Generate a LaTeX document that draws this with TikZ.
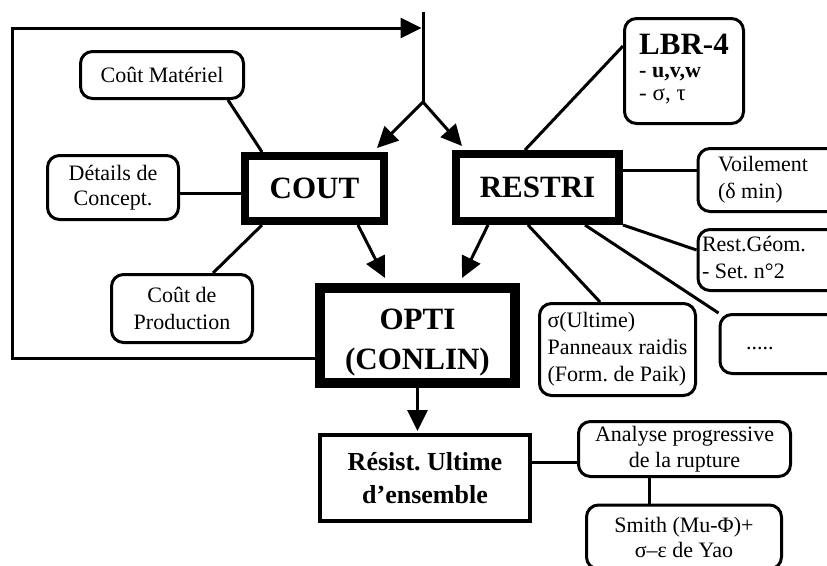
\documentclass[tikz,border=0pt]{standalone}
\usepackage{fontspec}
\setmainfont{Liberation Serif}
\usetikzlibrary{arrows.meta,calc}
\begin{document}
\begin{tikzpicture}[x=1pt,y=-1pt,
  conn/.style={line width=3pt},
  arr/.style={line width=3pt,-{Triangle[length=21pt,width=20pt]}},
  rbox/.style={draw,line width=3pt,rounded corners=12pt,inner sep=0pt,
    font=\fontsize{22}{26}\selectfont,align=center},
  bigbox/.style={draw,line width=8pt,inner sep=0pt,
    font=\bfseries\fontsize{31}{40}\selectfont,align=center},
  ]
\fill[white] (0,0) rectangle (827,565);
\clip (0,0) rectangle (827,565);

% main boxes
\node[bigbox,minimum width=139pt,minimum height=65pt] (CO) at (314.5,188.5) {COUT};
\node[bigbox,minimum width=163pt,minimum height=67pt] (RE) at (537.5,187.5) {RESTRI};
\node[bigbox,line width=10pt,minimum width=195pt,minimum height=95pt] (OP) at (417.5,335.5) {\rule{0pt}{34pt}OPTI\\(CONLIN)};
\node[bigbox,line width=4pt,minimum width=210pt,minimum height=86pt,
  font=\bfseries\fontsize{26}{33}\selectfont] (RU) at (425,478) {Résist.\ Ultime\\d’ensemble};

% rounded boxes
\node[rbox,minimum width=163pt,minimum height=47pt] (CM) at (162,75) {Coût Matériel};
\node[rbox,minimum width=131pt,minimum height=64pt,font=\fontsize{22}{25}\selectfont] (DC) at (113,187.5) {Détails de\\Concept.};
\node[rbox,minimum width=141pt,minimum height=68pt,font=\fontsize{22}{27}\selectfont] (CP) at (182,308.5) {Coût de\\Production};
\node[rbox,minimum width=119pt,minimum height=105pt,font=\fontsize{23}{23}\selectfont] (LB) at (684,71)
  {\begin{tabular}{@{}l@{}}{\bfseries\fontsize{31}{31}\selectfont LBR-4}\\{\bfseries\fontsize{22}{23}\selectfont - u,v,w}\\- σ, τ\end{tabular}};
\node[rbox,anchor=west,inner xsep=20pt,minimum height=63pt,
  font=\fontsize{22}{27}\selectfont] (VO) at (696.5,180) {\begin{tabular}{@{}l@{\hspace{12pt}}}Voilement\\(δ min)\end{tabular}};
\node[rbox,anchor=west,inner xsep=4pt,minimum height=61pt,
  font=\fontsize{22}{27}\selectfont] (RG) at (696.5,260) {\begin{tabular}{@{}l@{\hspace{30pt}}}Rest.Géom.\\- Set.\ n°2\end{tabular}};
\node[rbox,anchor=west,inner xsep=26pt,minimum height=59pt] (DT) at (718.5,344) {\begin{tabular}{@{}l@{\hspace{60pt}}}.....\end{tabular}};
\node[rbox,minimum width=156pt,minimum height=92pt,font=\fontsize{22}{27}\selectfont] (SU) at (617.5,349.5)
  {\begin{tabular}{@{}l@{}}σ(Ultime)\\Panneaux raidis\\(Form.\ de Paik)\end{tabular}};
\node[rbox,minimum width=212pt,minimum height=55pt] (AN) at (684.5,449) {Analyse progressive\\de la rupture};
\node[rbox,minimum width=195pt,minimum height=64pt,font=\fontsize{22}{25}\selectfont] (SM) at (684,537) {Smith (Mu-Φ)+\\σ–ε de Yao};

% feedback loop and branch
\coordinate (top) at (423,12);
\coordinate (br) at (423,102);
\coordinate (fbl) at (12,358);
\coordinate (fbt) at (12,28);
\draw[arr,shorten >=1.5pt] (OP.west |- fbl) -- (fbl) -- (fbt) -- (top |- fbt);
\draw[conn] (top) -- (br);
\draw[arr] (br) -- ([xshift=-11pt,yshift=4pt]CO.north east);
\draw[arr] (br) -- ([xshift=10pt,yshift=4pt]RE.north west);

% cost inputs
\draw[conn] ([xshift=66pt]CM.south) -- ([xshift=-52.5pt]CO.north);
\draw[conn] (DC.east |- 0,193) -- (CO.west |- 0,193);
\draw[conn] ([xshift=31pt]CP.north) -- ([xshift=-52.5pt]CO.south);

% constraint inputs
\draw[conn] ([xshift=-12.5pt]RE.north) -- ([yshift=25pt]LB.west);
\draw[conn] (RE.east |- 0,170) -- (VO.west |- 0,170);
\draw[conn] (RE.south east) -- (RG.west |- 0,250);
\draw[conn] ([xshift=47.5pt]RE.south) -- (DT.north west);
\draw[conn] ([xshift=-9.5pt]RE.south) -- ([xshift=-17.5pt]SU.north);

% to OPTI and below
\draw[arr] ([xshift=43.5pt]CO.south) -- ([xshift=-32.5pt,yshift=5pt]OP.north);
\draw[arr] ([xshift=-49.5pt]RE.south) -- ([xshift=44.5pt,yshift=5pt]OP.north);
\draw[arr] (OP.south) -- ([yshift=2pt]OP.south |- RU.north);
\draw[conn] (RU.east |- 0,462) -- (AN.west |- 0,462);
\draw[conn] (AN.south -| 649,0) -- (SM.north -| 649,0);
\end{tikzpicture}
\end{document}
